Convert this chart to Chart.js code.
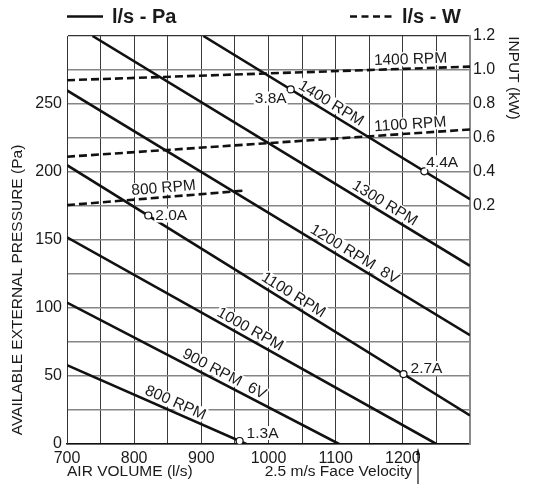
<!DOCTYPE html>
<html><head><meta charset="utf-8">
<script src="https://cdn.jsdelivr.net/npm/chart.js@4.4.1/dist/chart.umd.min.js"></script>
<style>html,body{margin:0;padding:0;background:#fff;} canvas{display:block;}</style>
</head><body>
<canvas id="c" width="534" height="488"></canvas>
<script>
const FONT = '"Liberation Sans", Arial, Helvetica, sans-serif';

// Fan curves (l/s - Pa)
const curveNames   = ['800 RPM', '900 RPM  6V', '1000 RPM', '1100 RPM', '1200 RPM  8V', '1300 RPM', '1400 RPM'];
const curveStartLs = [700, 700, 700, 700, 700, 738, 903];
const curveStartPa = [58, 104, 152, 205, 260, 300, 300];
const curveEndLs   = [967, 1105, 1250, 1300, 1300, 1300, 1300];
const curveEndPa   = [0, 0, 0, 21, 80, 131, 180];

// Power curves (l/s - kW)
const powerNames   = ['800 RPM', '1100 RPM', '1400 RPM'];
const powerStartLs = [700, 700, 700];
const powerStartKW = [0.205, 0.49, 0.94];
const powerEndLs   = [962, 1300, 1300];
const powerEndKW   = [0.29, 0.65, 1.02];

// Current markers
const ampNames = ['1.3A', '2.0A', '2.7A', '3.8A', '4.4A'];
const ampLs    = [957, 821, 1201, 1033, 1232];
const ampPa    = [2.2, 168, 51.4, 260.7, 200.5];

// Tick labels
const xTickLabels  = [700, 800, 900, 1000, 1100, 1200];
const yTickLabels  = [0, 50, 100, 150, 200, 250];
const kwTickLabels = [0.2, 0.4, 0.6, 0.8, 1.0, 1.2];

// label placement (l/s along each curve)
const curveLabelAt = [856, 928, 966, 1030, 1121, 1166, 1086];
const powerLabelAt = [845, 1212, 1212];
// amp label offsets [dx, dy, align]
const ampLabelOff = [[7, -8, 'left'], [7, 0, 'left'], [7, -6, 'left'], [-4, 9, 'right'], [2, -9, 'left']];

const datasets = [];
datasets.push({
  label: 'amps', yAxisID: 'y', order: -1, showLine: false,
  data: ampLs.map((v, i) => ({x: v, y: ampPa[i]})),
  pointRadius: 3.5, pointBackgroundColor: '#fff', pointBorderColor: '#111', pointBorderWidth: 1.2
});
curveNames.forEach((n, i) => datasets.push({
  label: n, yAxisID: 'y', showLine: true, order: 1,
  data: [{x: curveStartLs[i], y: curveStartPa[i]}, {x: curveEndLs[i], y: curveEndPa[i]}],
  borderColor: '#111', borderWidth: 2.6, pointRadius: 0
}));
powerNames.forEach((n, i) => datasets.push({
  label: 'P ' + n, yAxisID: 'y1', showLine: true, order: 1,
  data: [{x: powerStartLs[i], y: powerStartKW[i]}, {x: powerEndLs[i], y: powerEndKW[i]}],
  borderColor: '#111', borderWidth: 2.6, borderDash: [8, 4], pointRadius: 0
}));

function textBox(ctx, text, cx, cy, angle, align, bg) {
  ctx.save();
  ctx.translate(cx, cy);
  ctx.rotate(angle);
  const w = ctx.measureText(text).width;
  let x0 = -w / 2;
  if (align === 'left') x0 = 0;
  if (align === 'right') x0 = -w;
  if (bg) {
    ctx.fillStyle = '#fff';
    ctx.fillRect(x0 - 1, -7, w + 2, 14);
  }
  ctx.fillStyle = '#1a1a1a';
  ctx.textAlign = 'left';
  ctx.textBaseline = 'middle';
  ctx.fillText(text, x0, 0.5);
  ctx.restore();
}

const annot = {
  id: 'annot',
  afterDatasetsDraw(chart) {
    const {ctx, scales: {x, y, y1}} = chart;
    ctx.save();
    ctx.font = '15.5px ' + FONT;
    curveNames.forEach((n, i) => {
      const px0 = x.getPixelForValue(curveStartLs[i]), py0 = y.getPixelForValue(curveStartPa[i]);
      const px1 = x.getPixelForValue(curveEndLs[i]), py1 = y.getPixelForValue(curveEndPa[i]);
      const t = (curveLabelAt[i] - curveStartLs[i]) / (curveEndLs[i] - curveStartLs[i]);
      const a = Math.atan2(py1 - py0, px1 - px0);
      const d = 9.5;
      const cx = px0 + (px1 - px0) * t + Math.sin(a) * d;
      const cy = py0 + (py1 - py0) * t - Math.cos(a) * d;
      textBox(ctx, n, cx, cy, a, 'center', true);
    });
    powerNames.forEach((n, i) => {
      const px0 = x.getPixelForValue(powerStartLs[i]), py0 = y1.getPixelForValue(powerStartKW[i]);
      const px1 = x.getPixelForValue(powerEndLs[i]), py1 = y1.getPixelForValue(powerEndKW[i]);
      const t = (powerLabelAt[i] - powerStartLs[i]) / (powerEndLs[i] - powerStartLs[i]);
      const a = Math.atan2(py1 - py0, px1 - px0);
      const d = 9.5;
      const cx = px0 + (px1 - px0) * t + Math.sin(a) * d;
      const cy = py0 + (py1 - py0) * t - Math.cos(a) * d;
      textBox(ctx, n, cx, cy, a, 'center', true);
    });
    ampNames.forEach((n, i) => {
      const px = x.getPixelForValue(ampLs[i]), py = y.getPixelForValue(ampPa[i]);
      const o = ampLabelOff[i];
      textBox(ctx, n, px + o[0], py + o[1], 0, o[2], true);
    });
    ctx.restore();
  },
  afterDraw(chart) {
    const {ctx} = chart;
    ctx.save();
    // legend
    ctx.strokeStyle = '#111';
    ctx.lineWidth = 2.5;
    ctx.beginPath(); ctx.moveTo(67, 16.5); ctx.lineTo(103, 16.5); ctx.stroke();
    ctx.setLineDash([7, 4.5]);
    ctx.beginPath(); ctx.moveTo(350, 16.5); ctx.lineTo(393, 16.5); ctx.stroke();
    ctx.setLineDash([]);
    ctx.fillStyle = '#1a1a1a';
    ctx.font = 'bold 20px ' + FONT;
    ctx.textBaseline = 'middle';
    ctx.textAlign = 'left';
    ctx.fillText('l/s - Pa', 112, 17);
    ctx.fillText('l/s - W', 402, 17);
    // axis titles
    ctx.font = '15.5px ' + FONT;
    ctx.fillText('AIR VOLUME (l/s)', 67, 472);
    ctx.textAlign = 'right';
    ctx.fillText('2.5 m/s Face Velocity', 412, 472);
    ctx.save();
    ctx.translate(18, 290); ctx.rotate(-Math.PI / 2);
    ctx.textAlign = 'center';
    ctx.fillText('AVAILABLE EXTERNAL PRESSURE (Pa)', 0, 0);
    ctx.restore();
    ctx.save();
    ctx.translate(513, 78); ctx.rotate(Math.PI / 2);
    ctx.textAlign = 'center';
    ctx.fillText('INPUT (kW)', 0, 0);
    ctx.restore();
    // arrow
    ctx.strokeStyle = '#111'; ctx.lineWidth = 1.2;
    ctx.beginPath(); ctx.moveTo(418, 484); ctx.lineTo(418, 452); ctx.stroke();
    ctx.fillStyle = '#111';
    ctx.beginPath(); ctx.moveTo(418, 448); ctx.lineTo(416, 455); ctx.lineTo(420, 455); ctx.closePath(); ctx.fill();
    ctx.restore();
  }
};

const near = (v, arr) => arr.find(a => Math.abs(a - v) < 1e-6);

new Chart(document.getElementById('c'), {
  type: 'scatter',
  data: {datasets},
  options: {
    responsive: false, animation: false,
    layout: {padding: {top: 36, left: 0, right: 0, bottom: 0}},
    plugins: {legend: {display: false}, tooltip: {enabled: false}},
    scales: {
      x: {
        type: 'linear', min: 700, max: 1300,
        afterFit: s => { s.height = 44; },
        ticks: {stepSize: 50, autoSkip: false, maxRotation: 0, padding: 5, color: '#1a1a1a',
          font: {family: FONT, size: 16},
          callback: v => near(v, xTickLabels) !== undefined ? String(v) : ''},
        grid: {drawTicks: false,
          color: c => (c.tick && c.tick.value === 1300) ? '#8a8a8a' : '#3a3a3a',
          lineWidth: c => (c.tick && c.tick.value === 1300) ? 2 : 1},
        border: {color: '#111', width: 1.5}
      },
      y: {
        type: 'linear', position: 'left', min: 0, max: 300,
        afterFit: s => { s.width = 67; },
        ticks: {stepSize: 25, autoSkip: false, padding: 5, color: '#1a1a1a',
          font: {family: FONT, size: 16},
          callback: v => near(v, yTickLabels) !== undefined ? String(v) : ''},
        grid: {drawTicks: false,
          color: c => (c.tick && c.tick.value === 300) ? '#333' : '#858585',
          lineWidth: c => (c.tick && c.tick.value === 300) ? 1.2 : 1.5},
        border: {color: '#333', width: 1}
      },
      y1: {
        type: 'linear', position: 'right', min: -1.2, max: 1.2,
        afterFit: s => { s.width = 64; },
        ticks: {stepSize: 0.2, autoSkip: false, padding: 3, color: '#1a1a1a',
          font: {family: FONT, size: 16},
          callback: v => { const m = near(v, kwTickLabels); return m !== undefined ? m.toFixed(1) : ''; }},
        grid: {display: false, drawTicks: false},
        border: {color: '#8a8a8a', width: 2}
      }
    }
  },
  plugins: [annot]
});
</script>
</body></html>
